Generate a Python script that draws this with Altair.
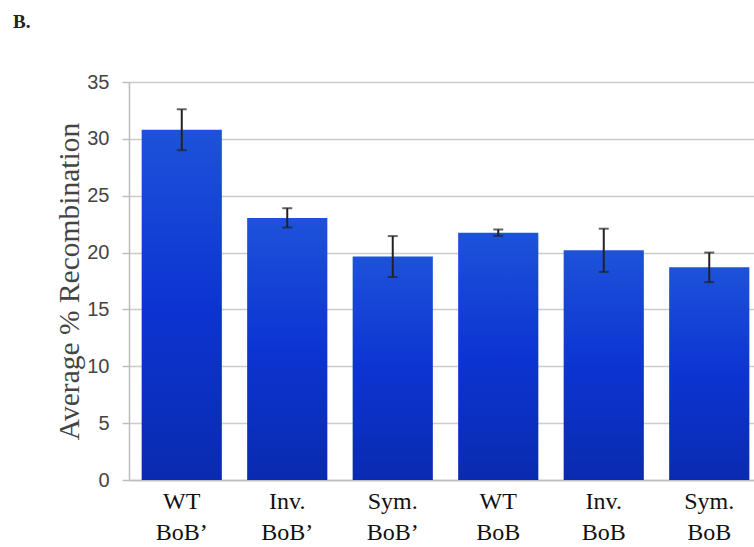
import altair as alt
import pandas as pd

categories = ["WT\nBoB\u2019", "Inv.\nBoB\u2019", "Sym.\nBoB\u2019", "WT\nBoB", "Inv.\nBoB", "Sym.\nBoB"]
means = [30.8, 23.05, 19.65, 21.75, 20.2, 18.7]
errors = [1.8, 0.85, 1.8, 0.28, 1.9, 1.3]

df = pd.DataFrame({
    "cat": categories,
    "mean": means,
    "lo": [m - e for m, e in zip(means, errors)],
    "hi": [m + e for m, e in zip(means, errors)],
})

order = categories
xscale = alt.Scale(range=[0, 633], paddingInner=0.24, paddingOuter=0.12)
x = alt.X("cat:N", sort=order, scale=xscale, title=None,
          axis=alt.Axis(labelExpr="split(datum.label, '\\n')", labelAngle=0,
                        labelFont="Liberation Serif", labelFontSize=24, labelColor="#111",
                        labelLineHeight=31, labelPadding=9, ticks=False,
                        domainColor="#bdbdbd", domainWidth=1.5, grid=False))

grad = alt.Gradient(gradient="linear",
                    stops=[alt.GradientStop(color="#1e52da", offset=0),
                           alt.GradientStop(color="#0c34d2", offset=0.5),
                           alt.GradientStop(color="#0a2bb0", offset=1)],
                    x1=0, x2=0, y1=0, y2=1)

yaxis = alt.Axis(values=[0, 5, 10, 15, 20, 25, 30, 35], labelFont="Liberation Sans",
                 labelFontSize=20, labelColor="#444", labelPadding=13,
                 tickColor="#bdbdbd", tickSize=7, tickWidth=1.5,
                 domainColor="#bdbdbd", domainWidth=1.5,
                 gridColor="#cccccc", gridWidth=1.5,
                 title="Average % Recombination", titleFont="Liberation Serif",
                 titleFontSize=29.5, titleFontWeight="normal", titleColor="#444",
                 titlePadding=2)

bars = alt.Chart(df).mark_bar(color=grad).encode(
    x=x,
    y=alt.Y("mean:Q", scale=alt.Scale(domain=[0, 35], nice=False), axis=yaxis),
)

rules = alt.Chart(df).mark_rule(color="#222", strokeWidth=2).encode(
    x=alt.X("cat:N", sort=order, scale=xscale),
    y="lo:Q", y2="hi:Q",
)
cap_lo = alt.Chart(df).mark_tick(color="#222", size=10, thickness=2).encode(
    x=alt.X("cat:N", sort=order, scale=xscale), y="lo:Q")
cap_hi = alt.Chart(df).mark_tick(color="#222", size=10, thickness=2).encode(
    x=alt.X("cat:N", sort=order, scale=xscale), y="hi:Q")

chart = alt.layer(bars, rules, cap_lo, cap_hi).properties(
    width=625, height=398,
    autosize=alt.AutoSizeParams(type="none"),
    padding={"left": 129, "top": 82, "right": 0, "bottom": 67},
    title=alt.TitleParams(text="B.", anchor="start", dx=-116, offset=40,
                          font="Liberation Serif", fontSize=19, fontWeight="bold",
                          color="#222", frame="group"),
).configure_view(stroke=None)

chart.save("out.html", embed_options={"renderer": "svg", "actions": False})
